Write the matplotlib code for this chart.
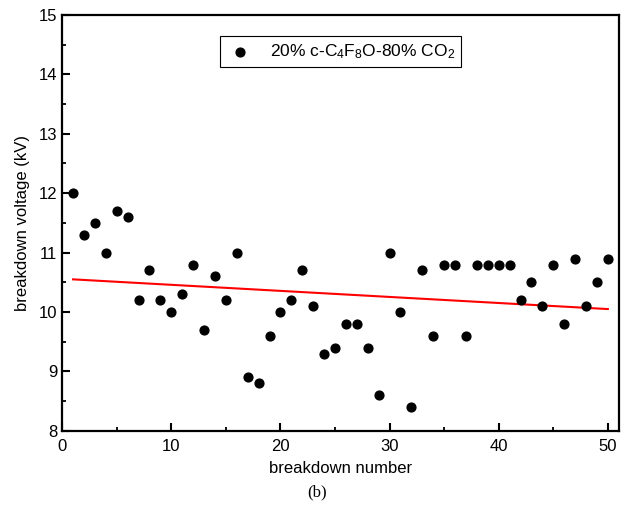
"""
Tension de ruptura vs numero de ruptura, 20% c-C4F8O / 80% CO2 (b).
Guarda out.png.
"""
import matplotlib.pyplot as plt
import numpy as np

plt.rcParams["font.family"] = ["Liberation Sans", "DejaVu Sans"]
plt.rcParams["mathtext.fontset"] = "custom"
plt.rcParams["mathtext.rm"] = "Liberation Sans"
plt.rcParams["mathtext.it"] = "Liberation Sans"

shot = np.arange(1, 51)
voltage = [
    12.0, 11.3, 11.5, 11.0, 11.7, 11.6, 10.2, 10.7, 10.2, 10.0,
    10.3, 10.8, 9.7, 10.6, 10.2, 11.0, 8.9, 8.8, 9.6, 10.0,
    10.2, 10.7, 10.1, 9.3, 9.4, 9.8, 9.8, 9.4, 8.6, 11.0,
    10.0, 8.4, 10.7, 9.6, 10.8, 10.8, 9.6, 10.8, 10.8, 10.8,
    10.8, 10.2, 10.5, 10.1, 10.8, 9.8, 10.9, 10.1, 10.5, 10.9,
]
# recta de ajuste (extremos)
fit_x = [1, 50]
fit_y = [10.55, 10.05]


def main():
    fig = plt.figure(figsize=(6.34, 5.16), dpi=100)
    ax = fig.add_axes([0.098, 0.165, 0.878, 0.806])

    ax.scatter(shot, voltage, s=40, color="black", zorder=3,
               label="20% c-C$_4$F$_8$O-80% CO$_2$")
    ax.plot(fit_x, fit_y, color="red", lw=1.5, zorder=2)

    ax.set_xlim(0, 51)
    ax.set_ylim(8, 15)
    ax.set_xticks(range(0, 51, 10))
    ax.set_xticks(range(5, 51, 10), minor=True)
    ax.set_yticks(range(8, 16))
    ax.set_yticks(np.arange(8.5, 15, 1.0), minor=True)
    ax.tick_params(direction="in", labelsize=12, length=6, width=1.5)
    ax.tick_params(axis="x", pad=6)
    ax.tick_params(which="minor", direction="in", length=3, width=1.3)
    for sp in ax.spines.values():
        sp.set_linewidth(1.6)

    ax.set_xlabel("breakdown number", fontsize=12, labelpad=5)
    ax.set_ylabel("breakdown voltage (kV)", fontsize=12, labelpad=6)

    leg = ax.legend(loc="upper center", bbox_to_anchor=(0.5, 0.97),
                    fontsize=12.5, fancybox=False, framealpha=1,
                    edgecolor="black", handletextpad=0.9, borderpad=0.35,
                    handlelength=1.6)
    leg.get_frame().set_linewidth(0.8)

    fig.text(0.5, 0.045, "(b)", ha="center", va="center", fontsize=12,
             family="Liberation Serif")

    fig.savefig("out.png", dpi=100)
    plt.close(fig)


if __name__ == "__main__":
    main()
